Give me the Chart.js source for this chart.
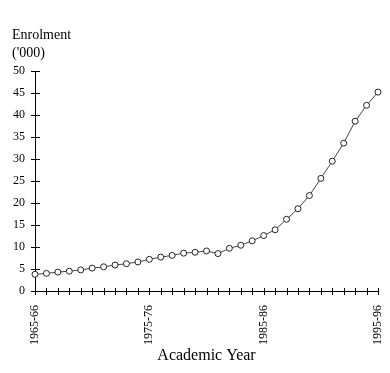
<!DOCTYPE html>
<html>
<head>
<meta charset="utf-8">
<script src="https://cdn.jsdelivr.net/npm/chart.js@4/dist/chart.umd.min.js"></script>
<style>
  html, body { margin: 0; padding: 0; background: #fff; }
  #wrap { width: 390px; height: 373px; position: relative; }
</style>
</head>
<body>
<div id="wrap"><canvas id="c" width="390" height="373"></canvas></div>
<script>
const years = [
  '1965-66','1966-67','1967-68','1968-69','1969-70','1970-71','1971-72','1972-73',
  '1973-74','1974-75','1975-76','1976-77','1977-78','1978-79','1979-80','1980-81',
  '1981-82','1982-83','1983-84','1984-85','1985-86','1986-87','1987-88','1988-89',
  '1989-90','1990-91','1991-92','1992-93','1993-94','1994-95','1995-96'
];
const enrolment = [
  3.8, 4.0, 4.3, 4.5, 4.8, 5.2, 5.5, 5.9, 6.2, 6.6,
  7.2, 7.7, 8.1, 8.6, 8.8, 9.1, 8.5, 9.7, 10.4, 11.4,
  12.6, 13.9, 16.3, 18.7, 21.7, 25.6, 29.5, 33.6, 38.6, 42.2,
  45.2
];
const shownYearLabels = ['1965-66', '1975-76', '1985-86', '1995-96'];
const yTitleLines = ['Enrolment', "('000)"];
const xTitle = 'Academic Year';

const serif = "'Liberation Serif', 'Times New Roman', serif";

const crossTicks = {
  id: 'crossTicks',
  beforeDatasetsDraw(chart) {
    const ctx = chart.ctx;
    const xs = chart.scales.x, ys = chart.scales.y;
    ctx.save();
    ctx.strokeStyle = '#000';
    ctx.lineWidth = 1;
    ctx.beginPath();
    for (let i = 0; i < xs.ticks.length; i++) {
      const px = Math.round(xs.getPixelForTick(i)) + 0.5;
      ctx.moveTo(px, xs.top - 3);
      ctx.lineTo(px, xs.top + 4);
    }
    for (let i = 0; i < ys.ticks.length; i++) {
      const py = Math.round(ys.getPixelForTick(i)) + 0.5;
      ctx.moveTo(ys.right - 4, py);
      ctx.lineTo(ys.right + 5, py);
    }
    ctx.stroke();
    ctx.restore();
  }
};

const yTitlePlugin = {
  id: 'yTitle',
  afterDraw(chart) {
    const ctx = chart.ctx;
    ctx.save();
    ctx.fillStyle = '#000';
    ctx.font = "14px " + serif;
    ctx.textAlign = 'left';
    ctx.textBaseline = 'alphabetic';
    ctx.fillText(yTitleLines[0], 12, 39);
    ctx.fillText(yTitleLines[1], 12, 57);
    ctx.restore();
  }
};

new Chart(document.getElementById('c'), {
  type: 'line',
  data: {
    labels: years,
    datasets: [{
      data: enrolment,
      borderColor: '#444',
      borderWidth: 1,
      pointRadius: 3,
      pointBorderWidth: 1,
      pointBorderColor: '#222',
      pointBackgroundColor: '#fff',
      tension: 0
    }]
  },
  options: {
    responsive: false,
    animation: false,
    devicePixelRatio: 1,
    layout: { padding: { top: 71, right: 12, left: 0, bottom: 0 } },
    plugins: { legend: { display: false }, tooltip: { enabled: false }, title: { display: false } },
    scales: {
      x: {
        offset: false,
        grid: { display: false, drawTicks: false },
        border: { display: true, color: '#000', width: 1 },
        ticks: {
          autoSkip: false,
          maxRotation: 90,
          minRotation: 90,
          padding: 14,
          color: '#000',
          font: { family: serif, size: 12 },
          callback: function (v, i) {
            const lab = years[i];
            return shownYearLabels.includes(lab) ? lab : '';
          }
        },
        title: {
          display: true,
          text: xTitle,
          color: '#000',
          font: { family: serif, size: 16 },
          padding: { top: 0, bottom: 8 }
        },
        afterFit(scale) {
          scale.height = 82;
          scale.paddingLeft = 0;
          scale.paddingRight = 0;
        }
      },
      y: {
        min: 0,
        max: 50,
        grid: { display: false, drawTicks: false },
        border: { display: true, color: '#000', width: 1 },
        ticks: {
          stepSize: 5,
          padding: 10,
          color: '#000',
          font: { family: serif, size: 12 }
        },
        afterFit(scale) {
          scale.width = 35;
          scale.paddingTop = 0;
          scale.paddingBottom = 0;
        }
      }
    }
  },
  plugins: [crossTicks, yTitlePlugin]
});
</script>
</body>
</html>
